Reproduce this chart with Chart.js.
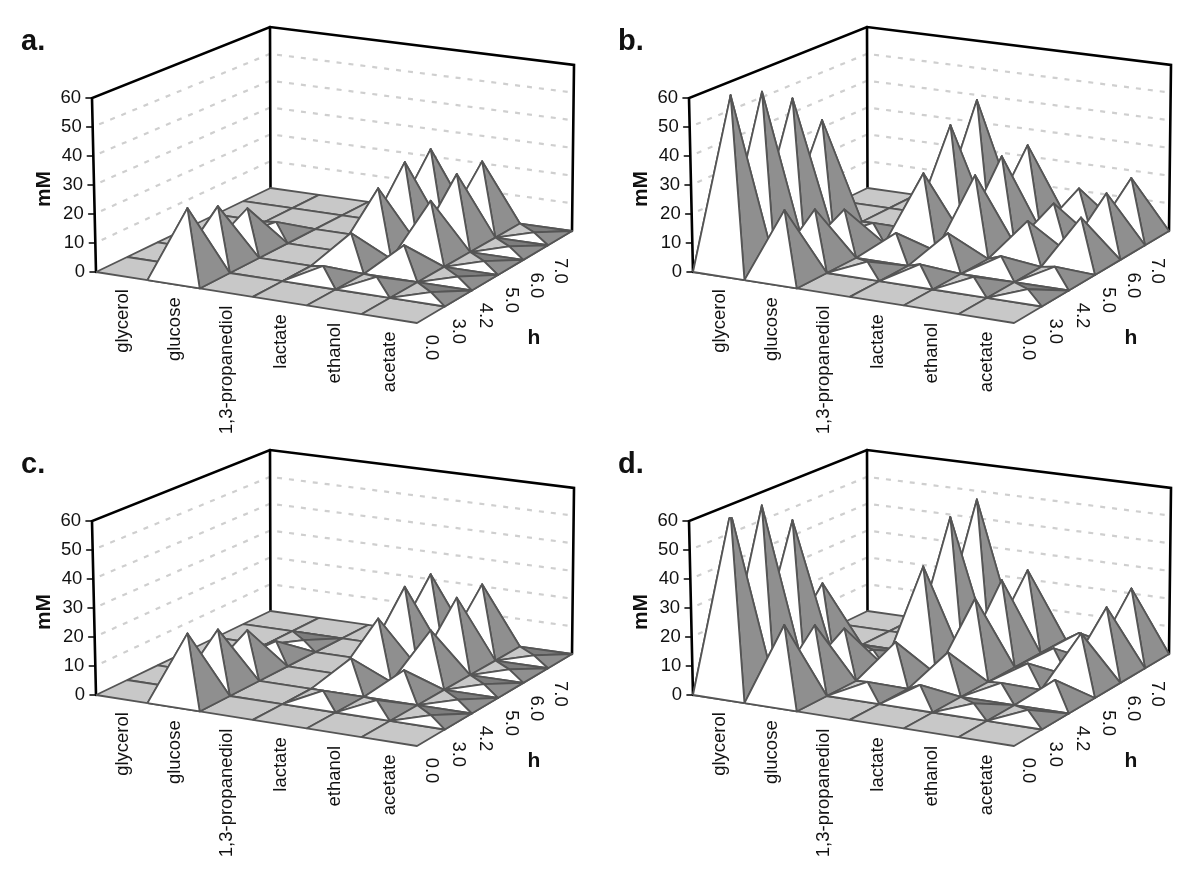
<!DOCTYPE html>
<html>
<head>
<meta charset="utf-8">
<title>metabolites</title>
<script src="https://cdn.jsdelivr.net/npm/chart.js@4"></script>
<style>
html, body { margin: 0; padding: 0; background: #fff; overflow: hidden; }
canvas { position: absolute; }
</style>
</head>
<body>
<canvas id="chartA" width="600" height="440" style="left:0;top:0"></canvas>
<canvas id="chartB" width="600" height="440" style="left:597px;top:0"></canvas>
<canvas id="chartC" width="600" height="440" style="left:0;top:423px"></canvas>
<canvas id="chartD" width="600" height="440" style="left:597px;top:423px"></canvas>
<script>
const categories = ["glycerol", "glucose", "1,3-propanediol", "lactate", "ethanol", "acetate"];
const hours = ["0.0", "3.0", "4.2", "5.0", "6.0", "7.0"];
const valueTicks = [0, 10, 20, 30, 40, 50, 60];

// one row per category, one value per hour (mM)
const panelA = [
  [0, 0, 0, 0, 0, 0],
  [23.6, 19.3, 13.6, 3.8, 0, 0],
  [0, 0, 0, 0, 0, 0],
  [0, 4, 10.3, 21.1, 25.6, 25.6],
  [0, 3.1, 8.8, 19.3, 23.9, 23.7],
  [0, 0.7, 0.7, 0.8, 0.8, 0.7]
];
const panelB = [
  [60, 56.8, 50, 37.8, 0, 0],
  [22.9, 18.2, 13.2, 3.4, 0, 0],
  [0, 2.7, 7.6, 23.8, 36.4, 41],
  [0, 4.6, 10.2, 25.7, 27.7, 27],
  [0, 3.1, 5, 12.2, 13.4, 13.9],
  [0, 1.7, 4.1, 16.1, 19.7, 20.3]
];
const panelC = [
  [0, 0, 0, 0, 0, 0],
  [22.8, 19.2, 14, 5.1, 0.5, 0],
  [0, 0, 0, 0, 0, 0],
  [0, 3.4, 9.5, 18.5, 25, 24.8],
  [0, 3, 8.1, 17, 23.7, 23.7],
  [0, 0.7, 0.7, 0.8, 0.8, 0.7]
];
const panelD = [
  [62, 60, 50.4, 23.3, 0, 0],
  [25.7, 20.7, 14.6, 2, 0, 0],
  [0, 3.7, 12.5, 34.4, 47.6, 49.6],
  [0, 5.4, 11.6, 25.6, 27.4, 26.3],
  [0, 1.9, 3.7, 5.3, 5.6, 6.1],
  [0, 2.5, 7.5, 18.6, 22.9, 24.8]
];

const FONT = '"Liberation Sans", Arial, sans-serif';
const VMAX = 60;

// box corners as they sit on the page: front-left, front-right, back-right, back-left
const floorQuad = [[96, 272], [417, 323], [572, 231], [270.5, 188]];
const topQuad = [[92, 98], [416, 144], [574, 65], [270, 27]];

// unit square -> quad, gives the perspective of the box
function homography(q) {
  const dx1 = q[1][0] - q[2][0], dy1 = q[1][1] - q[2][1];
  const dx2 = q[3][0] - q[2][0], dy2 = q[3][1] - q[2][1];
  const sx = q[0][0] - q[1][0] + q[2][0] - q[3][0];
  const sy = q[0][1] - q[1][1] + q[2][1] - q[3][1];
  const det = dx1 * dy2 - dx2 * dy1;
  const g = (sx * dy2 - dx2 * sy) / det;
  const h = (dx1 * sy - sx * dy1) / det;
  const a = q[1][0] - q[0][0] + g * q[1][0], b = q[3][0] - q[0][0] + h * q[3][0];
  const d = q[1][1] - q[0][1] + g * q[1][1], e = q[3][1] - q[0][1] + h * q[3][1];
  return function (u, v) {
    const w = g * u + h * v + 1;
    return { x: (a * u + b * v + q[0][0]) / w, y: (d * u + e * v + q[0][1]) / w };
  };
}
const floorMap = homography(floorQuad);
const topMap = homography(topQuad);

// category position, hour position, value -> chart x/y
function project(col, row, val) {
  const u = col / categories.length, v = row / hours.length, t = val / VMAX;
  const p0 = floorMap(u, v), p1 = topMap(u, v);
  return { x: p0.x + (p1.x - p0.x) * t, y: p0.y + (p1.y - p0.y) * t };
}

function poly(points, fillColor, lineColor, width) {
  return {
    data: points.concat([points[0]]),
    showLine: true,
    fill: "shape",
    backgroundColor: fillColor,
    borderColor: lineColor,
    borderWidth: width,
    borderJoinStyle: "round",
    pointRadius: 0,
    tension: 0
  };
}

function line(points, color, width, dash) {
  return {
    data: points,
    showLine: true,
    fill: false,
    borderColor: color,
    borderWidth: width,
    borderCapStyle: dash ? "butt" : "round",
    borderDash: dash || [],
    borderDashOffset: dash ? -7 : 0,
    pointRadius: 0,
    tension: 0
  };
}

function pyramid(col, row, val) {
  const t = Math.min(1, VMAX / val);
  const cx = col + 0.5, cy = row + 0.5;
  const base = (a, b) => project(a, b, 0);
  const cap = (a, b) => project(a + (cx - a) * t, b + (cy - b) * t, val * t);
  const face = (a, b, fillColor) => poly(
    [base(a[0], a[1]), base(b[0], b[1]), cap(b[0], b[1]), cap(a[0], a[1])], fillColor, "#555", 1.8);
  const c00 = [col, row], c10 = [col + 1, row], c11 = [col + 1, row + 1], c01 = [col, row + 1];
  const out = [
    face(c01, c11, "#7d7d7d"),
    face(c00, c01, "#c8c8c8"),
    face(c10, c11, "#8f8f8f"),
    face(c00, c10, "#ffffff")
  ];
  if (t < 1) {
    out.push(poly([cap(col, row), cap(col + 1, row), cap(col + 1, row + 1), cap(col, row + 1)], "#ffffff", "#555", 1.2));
  }
  return out;
}

function buildDatasets(values) {
  const nc = categories.length, nh = hours.length;
  const sets = [];
  valueTicks.forEach(function (z) {
    if (z > 0 && z < VMAX) {
      sets.push(line([project(0, 0, z), project(0, nh, z)], "#cfcfcf", 2.2, [5, 7]));
      sets.push(line([project(0, nh, z), project(nc, nh, z)], "#cfcfcf", 2.2, [5, 7]));
    }
    const p = project(0, 0, z);
    sets.push(line([p, { x: p.x - 6, y: p.y }], "#000", 1.6));
  });
  sets.push(line([project(0, 0, 0), project(0, 0, VMAX), project(0, nh, VMAX), project(nc, nh, VMAX), project(nc, nh, 0)], "#000", 2.6));
  sets.push(line([project(0, nh, 0), project(0, nh, VMAX)], "#000", 2.6));
  for (let r = nh - 1; r >= 0; r--) {
    for (let c = 0; c < nc; c++) {
      sets.push(poly([project(c, r, 0), project(c + 1, r, 0), project(c + 1, r + 1, 0), project(c, r + 1, 0)], "#c8c8c8", "#555", 1.8));
    }
  }
  for (let r = nh - 1; r >= 0; r--) {
    for (let c = 0; c < nc; c++) {
      if (values[c][r] > 0) sets.push.apply(sets, pyramid(c, r, values[c][r]));
    }
  }
  // chart.js paints dataset 0 last
  return sets.reverse();
}

function textAt(chart, ctx, str, px, py, font, rot, align) {
  const x = chart.scales.x.getPixelForValue(px), y = chart.scales.y.getPixelForValue(py);
  ctx.save();
  ctx.translate(x, y);
  ctx.rotate(rot);
  ctx.font = font;
  ctx.fillStyle = "#111";
  ctx.textAlign = align;
  ctx.textBaseline = "middle";
  ctx.fillText(str, 0, 0);
  ctx.restore();
}

function labelPlugin(letter) {
  return {
    id: "boxLabels",
    afterDraw: function (chart) {
      const ctx = chart.ctx;
      const tickFont = "18.5px " + FONT;
      valueTicks.forEach(function (z) {
        const p = project(0, 0, z);
        textAt(chart, ctx, String(z), p.x - 11, p.y, tickFont, 0, "right");
      });
      categories.forEach(function (name, c) {
        const p = project(c + 0.5, 0, 0);
        textAt(chart, ctx, name, p.x + 1, p.y + 13, tickFont, -Math.PI / 2, "right");
      });
      hours.forEach(function (name, r) {
        const p = project(categories.length, r + 0.5, 0);
        textAt(chart, ctx, name, p.x, p.y + 20, tickFont, Math.PI / 2, "left");
      });
      textAt(chart, ctx, "mM", 44, 189, "bold 21px " + FONT, -Math.PI / 2, "center");
      textAt(chart, ctx, "h", 534, 338, "bold 21px " + FONT, 0, "center");
      textAt(chart, ctx, letter, 21, 42, "bold 29px " + FONT, 0, "left");
    }
  };
}

function drawPanel(id, values, letter) {
  return new Chart(document.getElementById(id), {
    type: "scatter",
    data: { datasets: buildDatasets(values) },
    options: {
      responsive: false,
      animation: false,
      layout: { padding: 0 },
      plugins: { legend: { display: false }, tooltip: { enabled: false } },
      scales: {
        x: { type: "linear", min: 0, max: 600, display: false },
        y: { type: "linear", min: 0, max: 440, reverse: true, display: false }
      }
    },
    plugins: [labelPlugin(letter)]
  });
}

drawPanel("chartA", panelA, "a.");
drawPanel("chartB", panelB, "b.");
drawPanel("chartC", panelC, "c.");
drawPanel("chartD", panelD, "d.");
</script>
</body>
</html>
